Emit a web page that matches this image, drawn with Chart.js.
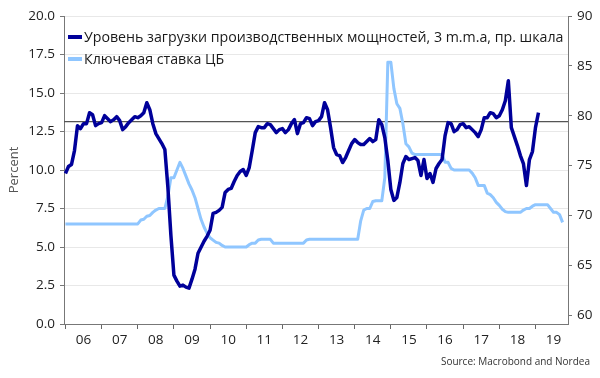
<!DOCTYPE html>
<html><head><meta charset="utf-8">
<script src="https://cdn.jsdelivr.net/npm/chart.js@4.4.1/dist/chart.umd.min.js"></script>
<style>html,body{margin:0;padding:0;background:#fff;}#wrap{width:600px;height:378px;}</style>
</head><body><div id="wrap"><canvas id="c" width="600" height="378"></canvas></div>
<script>
// ---- data (monthly, starting January 2006) ----
const startYear = 2006;
const seriesNames = ['Уровень загрузки производственных мощностей, 3 m.m.a, пр. шкала', 'Ключевая ставка ЦБ'];
const capacityUtilization = [
  74.2, 74.9, 75.1, 76.5, 79.0, 78.7, 79.2, 79.2, 80.3, 80.1, 79.0, 79.2,
  79.3, 80.0, 79.7, 79.4, 79.6, 79.9, 79.5, 78.6, 78.9, 79.3, 79.6, 79.9,
  79.8, 80.0, 80.3, 81.3, 80.6, 79.2, 78.2, 77.7, 77.2, 76.6, 72.8, 68.0,
  64.0, 63.4, 62.9, 63.0, 62.8, 62.7, 63.6, 64.6, 66.2, 66.8, 67.4, 67.9,
  68.5, 70.2, 70.3, 70.5, 70.8, 72.3, 72.6, 72.7, 73.4, 74.0, 74.4, 74.6,
  74.0, 74.8, 76.5, 78.3, 78.9, 78.8, 78.8, 79.2, 79.1, 78.7, 78.3, 78.6,
  78.7, 78.3, 78.6, 79.2, 79.6, 78.2, 79.2, 79.3, 79.8, 79.7, 79.0, 79.4,
  79.5, 79.9, 81.3, 80.6, 78.8, 76.8, 76.1, 76.0, 75.3, 75.8, 76.5, 77.2,
  77.6, 77.3, 77.1, 77.1, 77.4, 77.7, 77.4, 77.6, 79.6, 79.1, 77.8, 75.5,
  72.6, 71.5, 71.8, 73.3, 75.2, 75.9, 75.6, 75.7, 75.8, 75.5, 74.0, 75.6,
  73.7, 74.2, 73.3, 74.7, 75.2, 75.6, 78.0, 79.3, 79.2, 78.4, 78.6, 79.1,
  79.2, 78.8, 78.9, 78.6, 78.3, 77.9, 78.6, 79.8, 79.8, 80.3, 80.2, 79.8,
  80.0, 80.6, 81.5, 83.5, 78.8, 77.9, 77.0, 76.0, 75.2, 73.0, 75.6, 76.4,
  78.8, 80.3
];
const keyRate = [
  6.5, 6.5, 6.5, 6.5, 6.5, 6.5, 6.5, 6.5, 6.5, 6.5, 6.5, 6.5,
  6.5, 6.5, 6.5, 6.5, 6.5, 6.5, 6.5, 6.5, 6.5, 6.5, 6.5, 6.5,
  6.5, 6.75, 6.8, 7.0, 7.05, 7.25, 7.4, 7.5, 7.5, 7.5, 8.3, 9.5,
  9.5, 10.0, 10.5, 10.1, 9.6, 9.1, 8.7, 8.2, 7.5, 6.8, 6.3, 5.9,
  5.6, 5.45, 5.3, 5.25, 5.1, 5.0, 5.0, 5.0, 5.0, 5.0, 5.0, 5.0,
  5.0, 5.15, 5.25, 5.25, 5.45, 5.5, 5.5, 5.5, 5.5, 5.25, 5.25, 5.25,
  5.25, 5.25, 5.25, 5.25, 5.25, 5.25, 5.25, 5.25, 5.45, 5.5, 5.5, 5.5,
  5.5, 5.5, 5.5, 5.5, 5.5, 5.5, 5.5, 5.5, 5.5, 5.5, 5.5, 5.5,
  5.5, 5.5, 6.7, 7.4, 7.5, 7.5, 7.95, 8.0, 8.0, 8.0, 9.5, 17.0,
  17.0, 15.3, 14.3, 14.0, 13.0, 11.7, 11.5, 11.1, 11.0, 11.0, 11.0, 11.0,
  11.0, 11.0, 11.0, 11.0, 11.0, 11.0, 10.5, 10.5, 10.1, 10.0, 10.0, 10.0,
  10.0, 10.0, 10.0, 9.8, 9.5, 9.0, 9.0, 9.0, 8.5, 8.4, 8.2, 7.9,
  7.7, 7.45, 7.3, 7.25, 7.25, 7.25, 7.25, 7.25, 7.4, 7.5, 7.5, 7.65,
  7.75, 7.75, 7.75, 7.75, 7.75, 7.5, 7.25, 7.25, 7.1, 6.6
];
const referenceLevel = 79.4;           // horizontal line, right scale
const leftTicks = [0, 2.5, 5, 7.5, 10, 12.5, 15, 17.5, 20];
const rightTicks = [60, 65, 70, 75, 80, 85, 90];
const yearLabels = ['06','07','08','09','10','11','12','13','14','15','16','17','18','19'];
const sourceText = 'Source: Macrobond and Nordea';
const axisTitle = 'Percent';

const xMin = 2005.96, xMax = 2019.9;
const darkBlue = '#00009a', lightBlue = '#8fc6ff';
const toPoints = arr => arr.map((v, i) => ({x: startYear + i / 12, y: v}));
const FONT = '"Open Sans", "Noto Sans", sans-serif';

const overlay = {
  id: 'overlay',
  afterDraw(chart) {
    const ctx = chart.ctx, a = chart.chartArea;
    ctx.save();
    const items = [[seriesNames[0], darkBlue, 37], [seriesNames[1], lightBlue, 59]];
    ctx.font = '14.2px ' + FONT;
    ctx.textBaseline = 'middle';
    ctx.textAlign = 'left';
    for (const [t, c, y] of items) {
      ctx.strokeStyle = c; ctx.lineWidth = 4; ctx.lineCap = 'butt';
      ctx.beginPath(); ctx.moveTo(a.left + 4, y); ctx.lineTo(a.left + 18, y); ctx.stroke();
      ctx.fillStyle = '#1a1a1a';
      ctx.fillText(t, a.left + 20, y + 0.5);
    }
    ctx.font = '10px ' + FONT;
    ctx.fillStyle = '#333';
    ctx.textAlign = 'right';
    ctx.fillText(sourceText, 590, 362);
    ctx.restore();
  }
};

new Chart(document.getElementById('c'), {
  type: 'line',
  data: {
    datasets: [
      {label: seriesNames[0], data: toPoints(capacityUtilization), yAxisID: 'y1', borderColor: darkBlue, borderWidth: 3.5, order: 1},
      {label: seriesNames[1], data: toPoints(keyRate), yAxisID: 'y', borderColor: lightBlue, borderWidth: 3, order: 2},
      {label: 'ref', data: [{x: xMin, y: referenceLevel}, {x: xMax, y: referenceLevel}], yAxisID: 'y1', borderColor: '#555', borderWidth: 1.3, order: 3}
    ]
  },
  options: {
    responsive: false, animation: false, devicePixelRatio: 1,
    layout: {padding: {top: 16, left: 0, right: 0, bottom: 0}},
    plugins: {legend: {display: false}, tooltip: {enabled: false}},
    elements: {point: {radius: 0}, line: {tension: 0, borderJoinStyle: 'round', borderCapStyle: 'butt'}},
    scales: {
      x: {
        type: 'linear', min: xMin, max: xMax,
        afterBuildTicks: s => {
          const t = [];
          yearLabels.forEach((l, i) => { t.push({value: startYear + i}); t.push({value: startYear + i + 0.5}); });
          s.ticks = t;
        },
        afterFit: s => { s.height = 54; },
        ticks: {
          autoSkip: false, maxRotation: 0, minRotation: 0, padding: 3,
          color: '#222', font: {family: FONT, size: 13.5},
          callback: v => (v % 1 === 0.5) ? yearLabels[Math.floor(v) - startYear] : ''
        },
        grid: {drawOnChartArea: false, tickLength: 5,
          tickColor: c => (c.tick && c.tick.value % 1 === 0) ? '#666' : 'rgba(0,0,0,0)'},
        border: {color: '#777', width: 1}
      },
      y: {
        position: 'left', min: 0, max: 20,
        afterBuildTicks: s => { s.ticks = leftTicks.map(v => ({value: v})); },
        afterFit: s => { s.width = 64; },
        ticks: {color: '#222', padding: 5, font: {family: FONT, size: 13.5}, callback: v => v.toFixed(1)},
        grid: {color: '#e8e8e8', tickColor: '#777', tickLength: 4, lineWidth: 1},
        border: {color: '#777', width: 1},
        title: {display: true, text: axisTitle, color: '#555', font: {family: FONT, size: 13}, padding: {top: 6, bottom: 0}}
      },
      y1: {
        position: 'right', min: 59.1, max: 90,
        afterBuildTicks: s => { s.ticks = rightTicks.map(v => ({value: v})); },
        afterFit: s => { s.width = 32; },
        ticks: {color: '#222', padding: 5, font: {family: FONT, size: 13.5}},
        grid: {drawOnChartArea: false, tickColor: '#777', tickLength: 4},
        border: {color: '#777', width: 1}
      }
    }
  },
  plugins: [overlay]
});
</script>
</body></html>
